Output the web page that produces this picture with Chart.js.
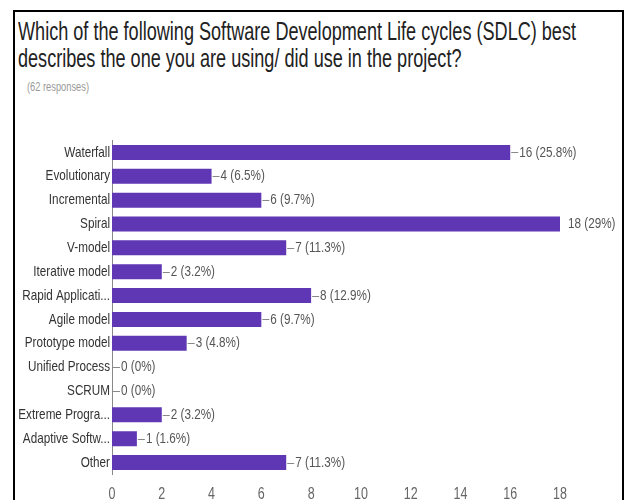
<!DOCTYPE html>
<html>
<head>
    <title>SDLC survey</title>
    <script src="https://cdn.jsdelivr.net/npm/chart.js"></script>
    <style>
body {
    margin: 0;
    width: 626px;
    height: 500px;
    overflow: hidden;
    background: #fff;
    position: relative;
    font-family: "Liberation Sans", Arial, sans-serif;
}

.frame {
    position: absolute;
    left: 13px;
    top: 10px;
    width: 607px;
    height: 520px;
    border: 2px solid #000;
}

.question {
    position: absolute;
    left: 18px;
    font-size: 25px;
    line-height: 27px;
    color: #222;
    white-space: nowrap;
    transform-origin: 0 0;
}

.responses {
    position: absolute;
    left: 27px;
    top: 80px;
    font-size: 13px;
    line-height: 14px;
    color: #999;
    white-space: nowrap;
    transform-origin: 0 0;
}

.chart {
    position: absolute;
    left: 0;
    top: 120px;
    width: 626px;
    height: 380px;
}
    </style>
</head>
<body>
  <div class="frame"></div>
  <div class="question" id="q1" style="top: 18px;">Which of the following Software Development Life cycles (SDLC) best</div>
  <div class="question" id="q2" style="top: 45px;">describes the one you are using/ did use in the project?</div>
  <div class="responses" id="resp">(62 responses)</div>
  <div class="chart">
      <canvas id="myChart"></canvas>
  </div>
    <script>
        const labelFont = '"Liberation Sans", Arial, sans-serif';
        const squeeze = 0.78;   // narrow lettering for all chart text

        // Answers and counts
        const categories = [
          'Waterfall', 'Evolutionary', 'Incremental', 'Spiral', 'V-model',
          'Iterative model', 'Rapid Applicati...', 'Agile model', 'Prototype model',
          'Unified Process', 'SCRUM', 'Extreme Progra...', 'Adaptive Softw...', 'Other'
        ];
        const counts = [16, 4, 6, 18, 7, 2, 8, 6, 3, 0, 0, 2, 1, 7];
        const percents = ['25.8%', '6.5%', '9.7%', '29%', '11.3%', '3.2%', '12.9%',
                          '9.7%', '4.8%', '0%', '0%', '3.2%', '1.6%', '11.3%'];
        const xTicks = [0, 2, 4, 6, 8, 10, 12, 14, 16, 18];

        // Narrow the heading lines to their printed width
        const q1 = document.getElementById('q1');
        const q2 = document.getElementById('q2');
        const qScale = 558 / q1.getBoundingClientRect().width;
        q1.style.transform = 'scaleX(' + qScale + ')';
        q2.style.transform = 'scaleX(' + qScale + ')';
        const resp = document.getElementById('resp');
        resp.style.transform = 'scaleX(' + (62 / resp.getBoundingClientRect().width) + ')';

        function narrowText(c, text, x, y, align) {
          c.save();
          c.translate(x, y);
          c.scale(squeeze, 1);
          c.textAlign = align;
          c.fillText(text, 0, 0);
          c.restore();
        }

        // Category names, x tick numbers and "—n (p%)" value labels
        const narrowLabels = {
          id: 'narrowLabels',
          afterDraw(chart) {
            const c = chart.ctx;
            const xs = chart.scales.x;
            const ys = chart.scales.y;
            const meta = chart.getDatasetMeta(0);
            const maxVal = Math.max(...counts);
            c.save();
            c.textBaseline = 'middle';

            c.font = '15px ' + labelFont;
            c.fillStyle = '#333';
            categories.forEach((name, i) => {
              narrowText(c, name, ys.right - 2, ys.getPixelForTick(i), 'right');
            });

            c.font = '16px ' + labelFont;
            c.fillStyle = '#666';
            xTicks.forEach(v => {
              narrowText(c, String(v), xs.getPixelForValue(v), xs.top + 20, 'center');
            });

            c.font = '15px ' + labelFont;
            c.fillStyle = '#555';
            c.strokeStyle = '#888';
            c.lineWidth = 1;
            meta.data.forEach((bar, i) => {
              const text = counts[i] + ' (' + percents[i] + ')';
              if (counts[i] === maxVal) {
                narrowText(c, text, bar.x + 8, bar.y, 'left');
                return;
              }
              c.beginPath();
              c.moveTo(bar.x + 1, Math.round(bar.y) + 0.5);
              c.lineTo(bar.x + 8, Math.round(bar.y) + 0.5);
              c.stroke();
              narrowText(c, text, bar.x + 9, bar.y, 'left');
            });
            c.restore();
          }
        };

        const ctx = document.getElementById('myChart').getContext('2d');
        const sdlcChart = new Chart(ctx, {
          type: 'bar',
          data: {
            labels: categories,
            datasets: [
              {
                data: counts,
                backgroundColor: '#5f37b5',
                borderWidth: 0,
                barPercentage: 0.63,
                categoryPercentage: 1,
              },
            ],
          },
          options: {
            indexAxis: 'y',
            responsive: true,
            maintainAspectRatio: false,
            animation: false,
            layout: {
              padding: { left: 13, right: 66, top: 20.5, bottom: 0 },
            },
            plugins: {
              legend: { display: false },
              tooltip: { enabled: false },
            },
            scales: {
              x: {
                min: 0,
                max: 18,
                afterFit: (scale) => { scale.height = 25.5; },
                grid: { display: false, drawTicks: false },
                border: { display: false },
                ticks: { display: false },
              },
              y: {
                afterFit: (scale) => { scale.width = 99; },
                grid: { display: false, drawTicks: false },
                border: { display: true, color: '#888', width: 1 },
                ticks: { display: false },
              },
            },
          },
          plugins: [narrowLabels],
        });
    </script>
</body>
</html>
